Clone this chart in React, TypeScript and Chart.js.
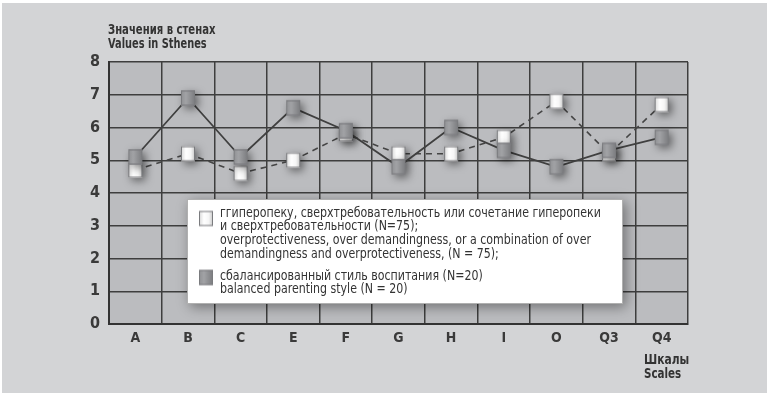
import React, { useEffect, useRef } from "react";
import { Chart, registerables } from "chart.js";

Chart.register(...registerables);

const categories = ["A", "B", "C", "E", "F", "G", "H", "I", "O", "Q3", "Q4"];
const overprotectiveValues = [4.7, 5.2, 4.6, 5.0, 5.8, 5.2, 5.2, 5.7, 6.8, 5.2, 6.7];
const balancedValues = [5.1, 6.9, 5.1, 6.6, 5.9, 4.8, 6.0, 5.3, 4.8, 5.3, 5.7];
const yMin = 0;
const yMax = 8;
const yStep = 1;
const yTitleLines = ["Значения в стенах", "Values in Sthenes"];
const xTitleLines = ["Шкалы", "Scales"];
const legendOverprotective = [
  "ггиперопеку, сверхтребовательность или сочетание гиперопеки",
  "и сверхтребовательности (N=75);",
  "overprotectiveness, over demandingness, or a combination of over",
  "demandingness and overprotectiveness, (N = 75);",
];
const legendBalanced = [
  "сбалансированный стиль воспитания (N=20)",
  "balanced parenting style (N = 20)",
];

const FONT = '"DejaVu Sans Condensed", "Liberation Sans Narrow", "Roboto", sans-serif';

function makeMarker(dark: boolean, shadow: boolean): HTMLCanvasElement {
  const S = 40;
  const c = document.createElement("canvas");
  c.width = S;
  c.height = S;
  const ctx = c.getContext("2d")!;
  const w = 14;
  const h = 15;
  const x0 = (S - w) / 2;
  const y0 = (S - h) / 2;
  if (shadow) {
    ctx.save();
    ctx.shadowColor = "rgba(0,0,0,0.5)";
    ctx.shadowBlur = 9;
    ctx.shadowOffsetX = 3;
    ctx.shadowOffsetY = 3;
    ctx.fillStyle = dark ? "#8d8e91" : "#eeeeee";
    ctx.fillRect(x0, y0, w, h);
    ctx.restore();
  }
  const g = ctx.createLinearGradient(x0, 0, x0 + w, 0);
  if (dark) {
    g.addColorStop(0, "#8f9093");
    g.addColorStop(0.35, "#a2a3a6");
    g.addColorStop(1, "#7b7c7f");
  } else {
    g.addColorStop(0, "#d6d6d6");
    g.addColorStop(0.35, "#ffffff");
    g.addColorStop(0.7, "#f6f6f6");
    g.addColorStop(1, "#c6c6c6");
  }
  ctx.fillStyle = g;
  ctx.fillRect(x0, y0, w, h);
  ctx.strokeStyle = "#7a7b7e";
  ctx.lineWidth = 1;
  ctx.strokeRect(x0 + 0.5, y0 + 0.5, w - 1, h - 1);
  return c;
}

function condensedText(ctx: CanvasRenderingContext2D, text: string, x: number, y: number, sx: number) {
  ctx.save();
  ctx.translate(x, y);
  ctx.scale(sx, 1);
  ctx.fillText(text, 0, 0);
  ctx.restore();
}

export default function App() {
  const ref = useRef<HTMLCanvasElement | null>(null);

  useEffect(() => {
    document.body.style.margin = "0";
    const canvas = ref.current!;
    const darkMarker = makeMarker(true, true);
    const lightMarker = makeMarker(false, true);
    const darkLegend = makeMarker(true, false);
    const lightLegend = makeMarker(false, false);

    const decor = {
      id: "decor",
      beforeDraw(chart: any) {
        const { ctx, chartArea: a } = chart;
        ctx.save();
        ctx.fillStyle = "#ffffff";
        ctx.fillRect(0, 0, chart.width, chart.height);
        ctx.fillStyle = "#d3d4d6";
        ctx.fillRect(2, 3, 765, 390);
        ctx.fillStyle = "#bbbcbf";
        ctx.fillRect(a.left, a.top, a.right - a.left, a.bottom - a.top);
        ctx.restore();
      },
      afterDatasetsDraw(chart: any) {
        const { ctx } = chart;
        ctx.save();
        const bx = 187, by = 199, bw = 436, bh = 105;
        ctx.save();
        ctx.shadowColor = "rgba(0,0,0,0.4)";
        ctx.shadowBlur = 12;
        ctx.shadowOffsetX = 3;
        ctx.shadowOffsetY = 3;
        ctx.fillStyle = "#ffffff";
        ctx.fillRect(bx, by, bw, bh);
        ctx.restore();
        ctx.strokeStyle = "#b0b0b0";
        ctx.lineWidth = 1;
        ctx.strokeRect(bx + 0.5, by + 0.5, bw - 1, bh - 1);
        ctx.drawImage(lightLegend, 206 - 20, 218.5 - 20);
        ctx.drawImage(darkLegend, 206 - 20, 277.5 - 20);
        ctx.fillStyle = "#333333";
        ctx.font = `14px ${FONT}`;
        ctx.textBaseline = "middle";
        ctx.textAlign = "left";
        const tx = 220;
        const ys1 = [213, 226, 240, 254];
        legendOverprotective.forEach((t, i) => condensedText(ctx, t, tx, ys1[i], 0.875));
        const ys2 = [276, 289];
        legendBalanced.forEach((t, i) => condensedText(ctx, t, tx, ys2[i], 0.875));
        ctx.restore();
      },
      afterDraw(chart: any) {
        const { ctx } = chart;
        ctx.save();
        ctx.fillStyle = "#333333";
        ctx.font = `bold 14px ${FONT}`;
        ctx.textBaseline = "middle";
        ctx.textAlign = "left";
        condensedText(ctx, yTitleLines[0], 108, 30, 0.8);
        condensedText(ctx, yTitleLines[1], 108, 44, 0.78);
        ctx.font = `bold 14px ${FONT}`;
        condensedText(ctx, xTitleLines[0], 644, 360, 0.85);
        condensedText(ctx, xTitleLines[1], 644, 374, 0.82);
        ctx.restore();
      },
    };

    const chart = new Chart(canvas, {
      type: "line",
      data: {
        labels: categories,
        datasets: [
          {
            label: "overprotective",
            data: overprotectiveValues,
            borderColor: "#454545",
            borderWidth: 1.6,
            borderDash: [6, 5],
            pointStyle: lightMarker as any,
            pointRadius: 8,
            tension: 0,
            order: 1,
          },
          {
            label: "balanced",
            data: balancedValues,
            borderColor: "#404040",
            borderWidth: 1.8,
            pointStyle: darkMarker as any,
            pointRadius: 8,
            tension: 0,
            order: 0,
          },
        ],
      },
      options: {
        responsive: false,
        animation: false,
        events: [],
        layout: { padding: { top: 62, right: 83, left: 0, bottom: 0 } },
        plugins: {
          legend: { display: false },
          tooltip: { enabled: false },
          title: { display: false },
        },
        scales: {
          x: {
            type: "category",
            offset: true,
            grid: { offset: true, color: "#3e3e3e", lineWidth: 1.5, drawTicks: false },
            border: { display: true, color: "#333333", width: 2 },
            ticks: {
              color: "#3a3a3a",
              padding: 6,
              font: { family: FONT, size: 14, weight: "bold" },
            },
            afterFit(scale: any) {
              scale.height = 73;
            },
          },
          y: {
            min: yMin,
            max: yMax,
            ticks: {
              stepSize: yStep,
              color: "#3a3a3a",
              padding: 9,
              font: { family: FONT, size: 16, weight: "bold" },
            },
            grid: { color: "#3e3e3e", lineWidth: 1.5, drawTicks: false },
            border: { display: true, color: "#333333", width: 2 },
            afterFit(scale: any) {
              scale.width = 109;
            },
          },
        },
      },
      plugins: [decor],
    });
    return () => chart.destroy();
  }, []);

  return <canvas ref={ref} width={771} height={397} style={{ display: "block" }} />;
}
